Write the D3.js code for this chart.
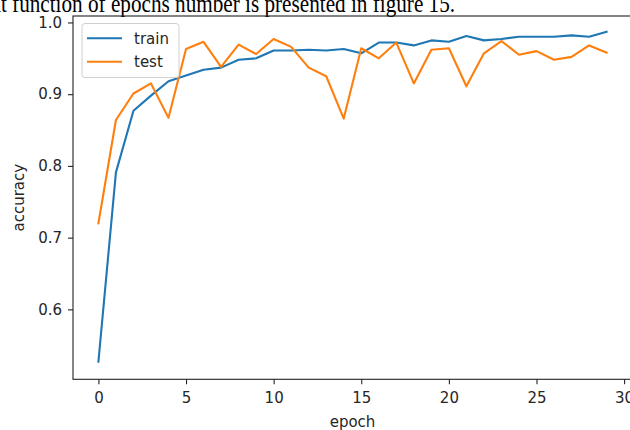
<!DOCTYPE html>
<html>
<head>
<meta charset="utf-8">
<script src="https://cdn.jsdelivr.net/npm/d3@7"></script>
<style>
  html, body { margin: 0; padding: 0; background: #fff; overflow: hidden; }
  svg { display: block; }
</style>
</head>
<body>
<script>
const epochs = d3.range(0, 30);
const trainAcc = [0.527, 0.791, 0.877, 0.898, 0.918, 0.926, 0.934, 0.937, 0.948, 0.950,
                  0.961, 0.961, 0.962, 0.961, 0.963, 0.957, 0.972, 0.972, 0.968, 0.975,
                  0.973, 0.981, 0.975, 0.977, 0.980, 0.980, 0.980, 0.982, 0.980, 0.987];
const testAcc  = [0.720, 0.864, 0.901, 0.915, 0.867, 0.963, 0.973, 0.938, 0.969, 0.956,
                  0.977, 0.966, 0.937, 0.925, 0.866, 0.964, 0.950, 0.972, 0.915, 0.962,
                  0.964, 0.911, 0.957, 0.974, 0.955, 0.960, 0.948, 0.952, 0.968, 0.958];
const xTicks = [0, 5, 10, 15, 20, 25, 30];
const yTicks = [0.6, 0.7, 0.8, 0.9, 1.0];
const seriesNames = ["train", "test"];
const seriesColors = ["#1f77b4", "#ff7f0e"];
const caption = "at function of epochs number is presented in figure 15.";

(function () {
const W = 630, H = 430;
const svg = d3.select("body").append("svg").attr("width", W).attr("height", H);

// caption text from the document (cut off at the top)
svg.append("text")
  .attr("transform", "translate(-8.5,11.5) scale(1,1.15)")
  .attr("font-family", "Liberation Serif, Times New Roman, serif")
  .attr("font-size", 21.2).attr("fill", "#000")
  .text(caption);

const pl = 73, pr = 632, pt = 16, pb = 379.3;
const x = d3.scaleLinear().domain([-1.45, 30.45]).range([pl, pr]);
const y = d3.scaleLinear().domain([0.5025, 1.009]).range([pb, pt]);

const font = "DejaVu Sans, sans-serif";

// lines
const line = d3.line().x((d, i) => x(epochs[i])).y(d => y(d));
[trainAcc, testAcc].forEach((s, k) => {
  svg.append("path").datum(s)
    .attr("d", line)
    .attr("fill", "none")
    .attr("stroke", seriesColors[k])
    .attr("stroke-width", 2.1)
    .attr("stroke-linejoin", "round")
    .attr("stroke-linecap", "square");
});

// spines
svg.append("rect")
  .attr("x", pl).attr("y", pt)
  .attr("width", pr - pl).attr("height", pb - pt)
  .attr("fill", "none").attr("stroke", "#222").attr("stroke-width", 1.1);

// axes
const xAxis = d3.axisBottom(x).tickValues(xTicks).tickSize(5).tickPadding(8).tickFormat(d3.format("d"));
const gx = svg.append("g").attr("transform", `translate(0,${pb})`).call(xAxis);
const yAxis = d3.axisLeft(y).tickValues(yTicks).tickSize(5).tickPadding(6).tickFormat(d3.format(".1f"));
const gy = svg.append("g").attr("transform", `translate(${pl},0)`).call(yAxis);
[gx, gy].forEach(g => {
  g.select(".domain").remove();
  g.selectAll(".tick line").attr("stroke", "#222").attr("stroke-width", 1.1);
  g.selectAll(".tick text").attr("fill", "#262626").attr("font-family", font).attr("font-size", 15);
});

// axis labels
svg.append("text")
  .attr("x", (pl + pr) / 2).attr("y", 427)
  .attr("text-anchor", "middle")
  .attr("font-family", font).attr("font-size", 15).attr("fill", "#262626")
  .text("epoch");
svg.append("text")
  .attr("transform", `translate(24,${(pt + pb) / 2}) rotate(-90)`)
  .attr("text-anchor", "middle")
  .attr("font-family", font).attr("font-size", 15).attr("fill", "#262626")
  .text("accuracy");

// legend
const lg = svg.append("g");
lg.append("rect")
  .attr("x", 82).attr("y", 23.5).attr("width", 97).attr("height", 54).attr("rx", 3)
  .attr("fill", "#fff").attr("fill-opacity", 0.8)
  .attr("stroke", "#d0d0d0").attr("stroke-width", 1);
seriesNames.forEach((n, k) => {
  const yy = 38.3 + k * 23.4;
  lg.append("line")
    .attr("x1", 87).attr("x2", 122).attr("y1", yy).attr("y2", yy)
    .attr("stroke", seriesColors[k]).attr("stroke-width", 2.1);
  lg.append("text")
    .attr("x", 134).attr("y", yy + 5.5)
    .attr("font-family", font).attr("font-size", 15).attr("fill", "#262626")
    .text(n);
});
})();
</script>
</body>
</html>
